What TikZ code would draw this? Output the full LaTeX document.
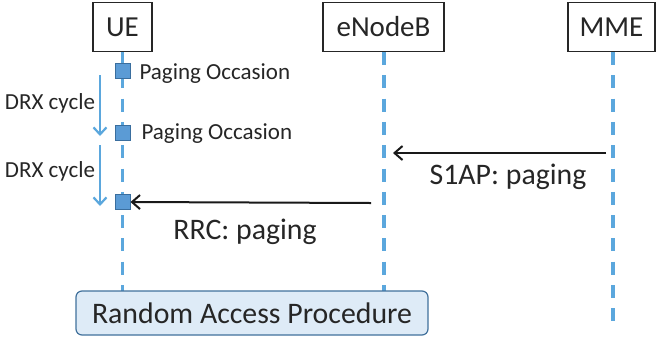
\documentclass[tikz,border=0pt]{standalone}
\usepackage{fontspec}
\setmainfont{Carlito}
\usetikzlibrary{arrows.meta}
\definecolor{lifeblue}{HTML}{5BA7DD}
\definecolor{sqfill}{HTML}{5B9BD5}
\definecolor{sqdraw}{HTML}{3A6E9E}
\definecolor{rafill}{HTML}{DEEBF7}
\definecolor{radraw}{HTML}{41719C}
\definecolor{txt}{HTML}{262626}
\tikzset{
  entity/.style={draw=black!85, line width=1.8pt, fill=white, minimum height=49pt, inner sep=0pt, font=\fontsize{29}{31}\selectfont, text=txt},
  lifeline/.style={draw=lifeblue, line width=3.2pt, dash pattern=on 13pt off 10.3pt},
  po/.style={draw=sqdraw, fill=sqfill, line width=1pt, minimum size=15pt, inner sep=0pt},
  small/.style={font=\fontsize{23}{25}\selectfont, text=txt},
  big/.style={font=\fontsize{29.8}{32}\selectfont, text=txt},
  msg/.style={draw=black!90, line width=2pt, -{Straight Barb[length=8pt,width=14pt,line width=2pt]}},
  drx/.style={draw=lifeblue, line width=2.2pt, -{Straight Barb[length=7pt,width=13pt,line width=2.2pt]}},
}
\begin{document}
\begin{tikzpicture}[x=1pt,y=-1pt]
\useasboundingbox (0,0) rectangle (656,341);
% entities
\node[entity, minimum width=59pt] (ue) at (122.5,27) {UE};
\node[entity, minimum width=121pt] (enb) at (383.5,27) {eNodeB};
\node[entity, minimum width=87pt] (mme) at (611.5,27) {MME};
% lifeline ends
\coordinate (ueEnd) at (122.5,291);
\coordinate (enbEnd) at (384,291);
\coordinate (mmeEnd) at (613,324);
\draw[lifeline] (122.5,52) -- (ueEnd);
\draw[lifeline] (384,52) -- (enbEnd);
\draw[lifeline] (613,52) -- (mmeEnd);
% paging occasions
\node[po] (po1) at (122.5,71) {};
\node[po] (po2) at (122.5,133) {};
\node[po] (po3) at (122.5,202) {};
\node[small, anchor=west] (t1) at (136,74) {Paging Occasion};
\node[small, anchor=west] (t2) at (138,134) {Paging Occasion};
% DRX arrows
\coordinate (d1s) at (100,75);
\coordinate (d1e) at (100,136);
\coordinate (d2s) at (100,145);
\coordinate (d2e) at (100,206);
\draw[drx] (d1s) -- (d1e);
\draw[drx] (d2s) -- (d2e);
\node[small, anchor=east] (c1) at (98.5,103) {DRX cycle};
\node[small, anchor=east] (c2) at (98.5,171) {DRX cycle};
% messages
\coordinate (s1s) at (606,153);
\coordinate (s1e) at (393,153);
\draw[msg] (s1s) -- (s1e);
\node[big] (s1l) at (508,177) {S1AP: paging};
\coordinate (rrs) at (371,203);
\draw[msg] (rrs) -- (po3.east);
\node[big] (rrl) at (245,232) {RRC: paging};
% random access
\node[draw=radraw, fill=rafill, line width=1.2pt, rounded corners=6pt, minimum width=352pt, minimum height=44pt, inner sep=0pt, big] (ra) at (252,313) {Random Access Procedure};
\end{tikzpicture}
\end{document}
